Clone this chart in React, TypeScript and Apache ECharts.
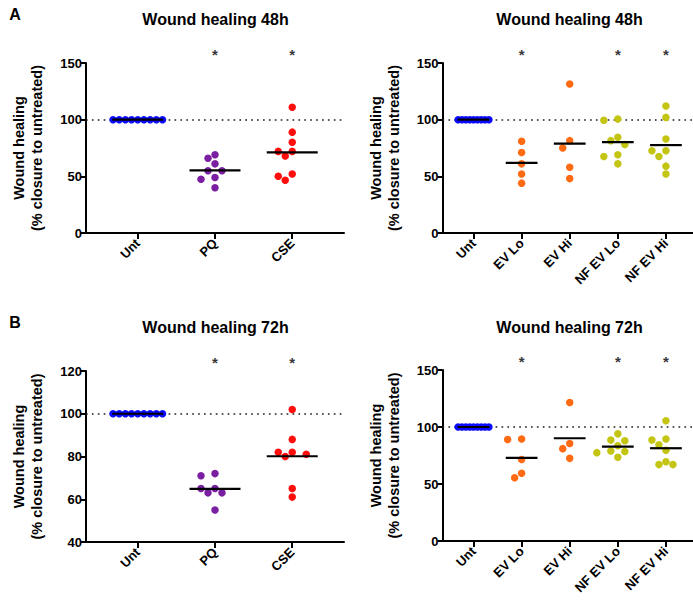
import React, { useEffect, useRef } from 'react';
import * as echarts from 'echarts';

// ---------- data ----------
const catsLeft = ['Unt', 'PQ', 'CSE'];
const catsRight = ['Unt', 'EV Lo', 'EV Hi', 'NF EV Lo', 'NF EV Hi'];

// Wound healing 48h
const unt48L = [100, 100, 100, 100, 100, 100, 100, 100, 100];
const pq48 = [69, 66, 61, 55, 55, 49, 47.5, 40];
const cse48 = [111, 89, 80, 72, 72, 68, 52, 50, 46.5];
const unt48R = [100, 100, 100, 100, 100, 100, 100, 100, 100];
const evLo48 = [81, 71, 61, 52, 44];
const evHi48 = [131.5, 81.5, 75, 58, 48];
const nfEvLo48 = [100.5, 99.5, 84.5, 81.5, 78, 69, 67.5, 61];
const nfEvHi48 = [112, 102, 83, 72.5, 72.5, 67.5, 59, 52];

// Wound healing 72h
const unt72L = [100, 100, 100, 100, 100, 100, 100, 100, 100];
const pq72 = [72, 71, 65, 65, 63, 63, 55];
const cse72 = [102, 88, 82, 82, 81, 80, 65, 61];
const unt72R = [100, 100, 100, 100, 100, 100, 100, 100, 100];
const evLo72 = [89.5, 89, 71.5, 59.5, 55.5];
const evHi72 = [121.5, 85.5, 81, 72.5];
const nfEvLo72 = [94, 88.5, 88, 83.5, 79, 78.5, 77.5, 73.5];
const nfEvHi72 = [105.5, 89.5, 88.5, 84.5, 79.5, 69.5, 67, 67];

// significant groups (indices of categories marked with *)
const sig48L = [1, 2];
const sig48R = [1, 3, 4];
const sig72L = [1, 2];
const sig72R = [1, 3, 4];

const refValue = 100;

// y axis ticks
const yTicksA = { min: 0, max: 150, interval: 50 };
const yTicksBLeft = { min: 40, max: 120, interval: 20 };

// ---------- styles ----------
const FONT = '"Liberation Sans", Arial, Helvetica, sans-serif';
const colUnt = '#0a0aff';
const colPQ = '#7a1fa2';
const colCSE = '#ff0d0d';
const colEV = '#ff6a12';
const colNF = '#c4c412';

const groupColorsLeft = [colUnt, colPQ, colCSE];
const groupColorsRight = [colUnt, colEV, colEV, colNF, colNF];

const DOT = 7.5;

function swarmOffsets(values: number[], pxPerX: number, pxPerY: number, maxSpanPx: number) {
  const D = 7.4;
  const step = 7;
  const order = values.map((_, i) => i).sort((a, b) => values[b] - values[a]);
  const placed: { x: number; y: number }[] = [];
  const off = new Array(values.length).fill(0);
  for (const i of order) {
    const y = values[i] * pxPerY;
    for (let k = 0; k < 80; k++) {
      const m = Math.ceil(k / 2);
      const cand = k === 0 ? 0 : k % 2 === 1 ? -m * step : m * step;
      if (placed.every((p) => Math.hypot(p.x - cand, p.y - y) >= D)) {
        off[i] = cand;
        placed.push({ x: cand, y });
        break;
      }
    }
  }
  const mn = Math.min(...off);
  const mx = Math.max(...off);
  const span = mx - mn;
  const scale = span > maxSpanPx ? maxSpanPx / span : 1;
  const center = (mx + mn) / 2;
  return off.map((o) => ((o - (span > maxSpanPx ? center : 0)) * scale) / pxPerX);
}

const mean = (a: number[]) => a.reduce((s, v) => s + v, 0) / a.length;

type Panel = {
  grid: { left: number; top: number; width: number; height: number };
  xMin: number;
  xMax: number;
  cats: string[];
  colors: string[];
  groups: number[][];
  sig: number[];
  y: { min: number; max: number; interval: number };
};

export default function App() {
  const ref = useRef<HTMLDivElement>(null);

  useEffect(() => {
    if (!ref.current) return;
    const chart = echarts.init(ref.current, null, { renderer: 'svg' });

    const leftW = 258;
    const rightW = 250.5;
    const panels: Panel[] = [
      {
        grid: { left: 86, top: 63, width: leftW, height: 170 },
        xMin: -0.67, xMax: 2.67, cats: catsLeft, colors: groupColorsLeft,
        groups: [unt48L, pq48, cse48], sig: sig48L, y: yTicksA,
      },
      {
        grid: { left: 442.5, top: 63, width: rightW, height: 170 },
        xMin: -0.645, xMax: -0.645 + rightW / 48.1, cats: catsRight, colors: groupColorsRight,
        groups: [unt48R, evLo48, evHi48, nfEvLo48, nfEvHi48], sig: sig48R, y: yTicksA,
      },
      {
        grid: { left: 86, top: 371, width: leftW, height: 171 },
        xMin: -0.67, xMax: 2.67, cats: catsLeft, colors: groupColorsLeft,
        groups: [unt72L, pq72, cse72], sig: sig72L, y: yTicksBLeft,
      },
      {
        grid: { left: 442.5, top: 370, width: rightW, height: 171 },
        xMin: -0.645, xMax: -0.645 + rightW / 48.1, cats: catsRight, colors: groupColorsRight,
        groups: [unt72R, evLo72, evHi72, nfEvLo72, nfEvHi72], sig: sig72R, y: yTicksA,
      },
    ];

    const grids: any[] = [];
    const xAxes: any[] = [];
    const yAxes: any[] = [];
    const series: any[] = [];

    panels.forEach((p, pi) => {
      grids.push({ ...p.grid, containLabel: false });
      const pxPerX = p.grid.width / (p.xMax - p.xMin);
      const pxPerY = p.grid.height / (p.y.max - p.y.min);
      const idxs = p.cats.map((_, i) => i);
      xAxes.push({
        type: 'value',
        gridIndex: pi,
        min: p.xMin,
        max: p.xMax,
        splitLine: { show: false },
        axisLine: { show: true, onZero: false, lineStyle: { color: '#000', width: 2 } },
        axisTick: { show: true, customValues: idxs, length: 6, lineStyle: { color: '#000', width: 2 } },
        axisLabel: {
          show: true,
          customValues: idxs,
          formatter: (v: number) => p.cats[Math.round(v)] ?? '',
          rotate: 45,
          margin: 8,
          color: '#000',
          fontFamily: FONT,
          fontWeight: 'bold',
          fontSize: 13,
        },
      });
      yAxes.push({
        type: 'value',
        gridIndex: pi,
        min: p.y.min,
        max: p.y.max,
        interval: p.y.interval,
        splitLine: { show: false },
        axisLine: { show: true, onZero: false, lineStyle: { color: '#000', width: 2 } },
        axisTick: { show: true, length: 5, lineStyle: { color: '#000', width: 2 } },
        axisLabel: { color: '#000', fontFamily: FONT, fontWeight: 'bold', fontSize: 13, margin: 4 },
        name: 'Wound healing\n(% closure to untreated)',
        nameLocation: 'middle',
        nameGap: 40,
        nameTextStyle: { color: '#000', fontFamily: FONT, fontWeight: 'bold', fontSize: 14.5, lineHeight: 18 },
      });

      const maxSpan = 0.64 * pxPerX;
      p.groups.forEach((vals, gi) => {
        const offs = swarmOffsets(vals, pxPerX, pxPerY, maxSpan);
        series.push({
          type: 'scatter',
          xAxisIndex: pi,
          yAxisIndex: pi,
          symbol: 'circle',
          symbolSize: DOT,
          itemStyle: { color: p.colors[gi], opacity: 1 },
          data: vals.map((v, k) => [gi + offs[k], v]),
          z: 3,
          ...(gi === 0
            ? {
                markLine: {
                  silent: true,
                  symbol: ['none', 'none'],
                  label: { show: false },
                  lineStyle: { color: '#222', width: 1.7, type: [1.7, 4.2] },
                  data: [{ yAxis: refValue }],
                  z: 1,
                },
              }
            : {}),
        });
        const m = mean(vals);
        series.push({
          type: 'line',
          xAxisIndex: pi,
          yAxisIndex: pi,
          symbol: 'none',
          lineStyle: { color: '#000', width: 2.2 },
          data: [
            [gi - 0.33, m],
            [gi + 0.33, m],
          ],
          z: 4,
        });
      });

      series.push({
        type: 'scatter',
        xAxisIndex: pi,
        yAxisIndex: pi,
        clip: false,
        symbolSize: 1,
        itemStyle: { color: 'rgba(0,0,0,0)' },
        label: {
          show: true,
          position: 'inside',
          formatter: '*',
          color: '#000',
          fontFamily: FONT,
          fontWeight: 'bold',
          fontSize: 15,
        },
        data: p.sig.map((i) => [i, p.y.max + 0.05 * (p.y.max - p.y.min)]),
        z: 5,
      });
    });

    const titleFont = `bold 16px ${FONT}`;
    const graphic: any[] = [
      { type: 'text', x: 15, y: 14, style: { text: 'A', font: titleFont, fill: '#000', align: 'center', verticalAlign: 'middle' } },
      { type: 'text', x: 15, y: 322, style: { text: 'B', font: titleFont, fill: '#000', align: 'center', verticalAlign: 'middle' } },
      { type: 'text', x: 215.5, y: 19, style: { text: 'Wound healing 48h', font: titleFont, fill: '#000', align: 'center', verticalAlign: 'middle' } },
      { type: 'text', x: 569.5, y: 19, style: { text: 'Wound healing 48h', font: titleFont, fill: '#000', align: 'center', verticalAlign: 'middle' } },
      { type: 'text', x: 215.5, y: 327, style: { text: 'Wound healing 72h', font: titleFont, fill: '#000', align: 'center', verticalAlign: 'middle' } },
      { type: 'text', x: 569.5, y: 327, style: { text: 'Wound healing 72h', font: titleFont, fill: '#000', align: 'center', verticalAlign: 'middle' } },
    ];

    chart.setOption({
      animation: false,
      backgroundColor: '#fff',
      grid: grids,
      xAxis: xAxes,
      yAxis: yAxes,
      series,
      graphic,
    });

    return () => chart.dispose();
  }, []);

  return (
    <div
      ref={ref}
      style={{ position: 'absolute', left: 0, top: 0, width: 693, height: 600, background: '#fff' }}
    />
  );
}
